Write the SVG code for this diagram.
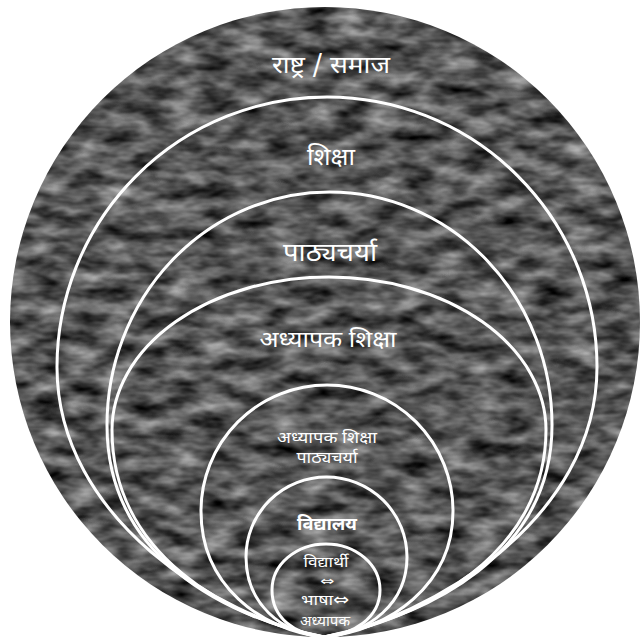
<svg xmlns="http://www.w3.org/2000/svg" width="640" height="643" viewBox="0 0 640 643">
  <defs>
    <filter id="tex" filterUnits="userSpaceOnUse" x="0" y="0" width="640" height="643" color-interpolation-filters="sRGB">
      <feTurbulence type="fractalNoise" baseFrequency="0.03 0.07" numOctaves="3" seed="7" result="n"/>
      <feColorMatrix in="n" type="matrix" values="0.9 0 0 0 -0.11  0.9 0 0 0 -0.11  0.9 0 0 0 -0.11  0 0 0 0 1" result="g"/>
      <feComposite in="g" in2="SourceGraphic" operator="in"/>
    </filter>
  </defs>
  <style>
    .ring { fill: none; stroke: #ffffff; stroke-width: 3; }
    .lbl { fill: #ffffff; font-family: "Noto Sans Devanagari", "Noto Sans", "Lohit Devanagari", "FreeSans", sans-serif; text-anchor: middle; }
    .arr { font-family: "DejaVu Sans", sans-serif; }
  </style>
  <rect width="640" height="643" fill="#ffffff"/>

  <g id="rashtra">
    <circle cx="325" cy="322" r="315" fill="#4d4d4d" filter="url(#tex)"/>
    <text class="lbl" x="331" y="73" font-size="24" textLength="118" lengthAdjust="spacingAndGlyphs">राष्ट्र / समाज</text>
  </g>

  <g id="shiksha">
    <path class="ring" d="M 324 637 C 220 618, 57 520, 57 367 A 270 270 0 0 1 597 367 C 597 520, 430 618, 324 637 Z"/>
    <text class="lbl" x="331" y="165" font-size="24" textLength="48" lengthAdjust="spacingAndGlyphs">शिक्षा</text>
  </g>

  <g id="pathyacharya">
    <path class="ring" d="M 324 637 C 220 615, 107 555, 107 425 A 222.5 233 0 0 1 552 425 C 552 555, 430 615, 324 637 Z"/>
    <text class="lbl" x="330" y="261" font-size="25" textLength="94" lengthAdjust="spacingAndGlyphs">पाठ्यचर्या</text>
  </g>

  <g id="adhyapak-shiksha">
    <path class="ring" d="M 324 637 C 230 620, 112 555, 112 430 A 217 153 0 0 1 546 430 C 546 555, 420 620, 324 637 Z"/>
    <text class="lbl" x="328" y="347" font-size="23" textLength="137" lengthAdjust="spacingAndGlyphs">अध्यापक  शिक्षा</text>
  </g>

  <g id="adhyapak-shiksha-pathyacharya">
    <path class="ring" d="M 324 637 C 260 630, 201 585, 201 511 A 126 126 0 0 1 453 511 C 453 585, 390 630, 324 637 Z"/>
    <text class="lbl" x="327" y="443" font-size="16" textLength="100" lengthAdjust="spacingAndGlyphs">अध्यापक  शिक्षा</text>
    <text class="lbl" x="327" y="463" font-size="16" textLength="61" lengthAdjust="spacingAndGlyphs">पाठ्यचर्या</text>
  </g>

  <g id="vidyalaya">
    <path class="ring" d="M 324 637 C 280 633, 246 603, 246 557 A 80.5 80 0 0 1 407 557 C 407 603, 370 633, 324 637 Z"/>
    <text class="lbl" x="327" y="530" font-size="17" font-weight="bold" textLength="60" lengthAdjust="spacingAndGlyphs">विद्यालय</text>
  </g>

  <g id="vidyarthi-bhasha-adhyapak">
    <path class="ring" d="M 324 637 C 295 635, 272 618, 272 590 A 54 46 0 0 1 380 590 C 380 618, 353 635, 324 637 Z"/>
    <text class="lbl" x="326" y="567" font-size="15" textLength="45" lengthAdjust="spacingAndGlyphs">विद्यार्थी</text>
    <text class="lbl arr" x="327" y="585" font-size="12" textLength="14" lengthAdjust="spacingAndGlyphs">⇔</text>
    <text class="lbl" x="325" y="605" font-size="15" textLength="48" lengthAdjust="spacingAndGlyphs">भाषा<tspan class="arr" font-size="16">⇔</tspan></text>
    <text class="lbl" x="325" y="626" font-size="15" textLength="50" lengthAdjust="spacingAndGlyphs">अध्यापक</text>
  </g>
</svg>
